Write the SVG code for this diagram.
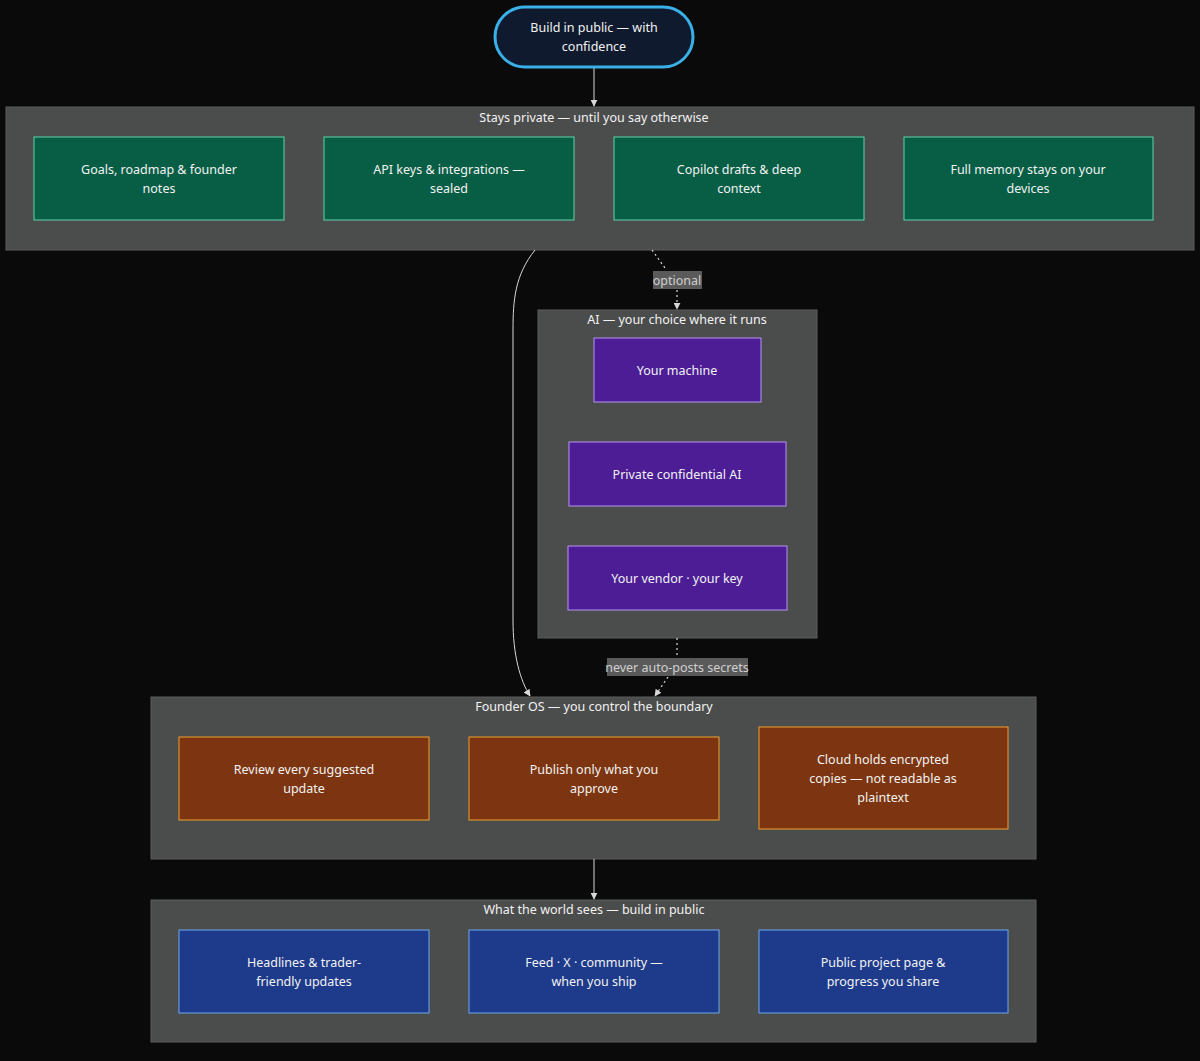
<svg xmlns="http://www.w3.org/2000/svg" width="1200" height="1061" viewBox="0 0 1200 1061">
<defs>
<marker id="arr" viewBox="0 0 10 10" refX="9" refY="5" markerWidth="7" markerHeight="7" orient="auto-start-reverse" markerUnits="userSpaceOnUse">
<path d="M0,0 L10,5 L0,10 z" fill="#d8d8d8"/>
</marker>
<style>
text{font-family:"Noto Sans","DejaVu Sans",sans-serif;font-size:12.5px;fill:#f2f2f2;text-anchor:middle;dominant-baseline:central}
.cl{fill:#4b4c4c;stroke:#5c5c5c;stroke-width:1}
.g{fill:#075e45;stroke:#5ed4a8;stroke-width:1}
.p{fill:#4c1d95;stroke:#b794f6;stroke-width:1}
.o{fill:#7c3510;stroke:#f0a030;stroke-width:1}
.b{fill:#1e3a8a;stroke:#6aa8f0;stroke-width:1}
.e{fill:none;stroke:#d8d8d8;stroke-width:1}
.d{fill:none;stroke:#d8d8d8;stroke-width:1.2;stroke-dasharray:2 3}
.lb{fill:#5a5a5a}
.lt{fill:#d0d0d0}
</style>
</defs>
<rect width="1200" height="1061" fill="#0a0a0a"/>

<g id="cluster-private">
<rect class="cl" x="6" y="107" width="1188" height="143"/>
<text x="594" y="117">Stays private — until you say otherwise</text>
</g>
<g id="cluster-ai">
<rect class="cl" x="538" y="310" width="279" height="328"/>
<text x="677" y="319">AI — your choice where it runs</text>
</g>
<g id="cluster-os">
<rect class="cl" x="151" y="697" width="885" height="162"/>
<text x="594" y="706">Founder OS — you control the boundary</text>
</g>
<g id="cluster-world">
<rect class="cl" x="151" y="900" width="885" height="142"/>
<text x="594" y="909">What the world sees — build in public</text>
</g>

<g id="connectors">
<path class="e" d="M594,67 L594,106" marker-end="url(#arr)"/>
<path class="e" d="M535,250 C515,275 513,300 513,330 L513,620 C513,655 520,680 530,696" marker-end="url(#arr)"/>
<path class="d" d="M652,250 L665,268"/>
<path class="d" d="M677,290 L677,309" marker-end="url(#arr)"/>
<path class="d" d="M677,638 L677,657"/>
<path class="d" d="M668,677 L655,696" marker-end="url(#arr)"/>
<path class="e" d="M594,859 L594,899" marker-end="url(#arr)"/>
<g id="label-optional">
<rect class="lb" x="653" y="271" width="49" height="18"/>
<text class="lt" x="677" y="280">optional</text>
</g>
<g id="label-never">
<rect class="lb" x="607" y="658" width="141" height="18"/>
<text class="lt" x="677" y="667">never auto-posts secrets</text>
</g>
</g>

<g id="start">
<rect x="495" y="7" width="198" height="60" rx="30" fill="#0f1a2e" stroke="#3ab0e8" stroke-width="3"/>
<text x="594" y="27">Build in public — with</text>
<text x="594" y="46">confidence</text>
</g>

<g id="goals"><rect class="g" x="34" y="137" width="250" height="83"/><text x="159" y="169">Goals, roadmap &amp; founder</text><text x="159" y="188">notes</text></g>
<g id="api"><rect class="g" x="324" y="137" width="250" height="83"/><text x="449" y="169">API keys &amp; integrations —</text><text x="449" y="188">sealed</text></g>
<g id="copilot"><rect class="g" x="614" y="137" width="250" height="83"/><text x="739" y="169">Copilot drafts &amp; deep</text><text x="739" y="188">context</text></g>
<g id="memory"><rect class="g" x="904" y="137" width="249" height="83"/><text x="1028" y="169">Full memory stays on your</text><text x="1028" y="188">devices</text></g>

<g id="machine"><rect class="p" x="594" y="338" width="167" height="64"/><text x="677" y="370">Your machine</text></g>
<g id="confidential"><rect class="p" x="569" y="442" width="217" height="64"/><text x="677" y="474">Private confidential AI</text></g>
<g id="vendor"><rect class="p" x="568" y="546" width="219" height="64"/><text x="677" y="578">Your vendor · your key</text></g>

<g id="review"><rect class="o" x="179" y="737" width="250" height="83"/><text x="304" y="769">Review every suggested</text><text x="304" y="788">update</text></g>
<g id="publish"><rect class="o" x="469" y="737" width="250" height="83"/><text x="594" y="769">Publish only what you</text><text x="594" y="788">approve</text></g>
<g id="cloud"><rect class="o" x="759" y="727" width="249" height="102"/><text x="883" y="759">Cloud holds encrypted</text><text x="883" y="778">copies — not readable as</text><text x="883" y="797">plaintext</text></g>

<g id="headlines"><rect class="b" x="179" y="930" width="250" height="83"/><text x="304" y="962">Headlines &amp; trader-</text><text x="304" y="981">friendly updates</text></g>
<g id="feed"><rect class="b" x="469" y="930" width="250" height="83"/><text x="594" y="962">Feed · X · community —</text><text x="594" y="981">when you ship</text></g>
<g id="page"><rect class="b" x="759" y="930" width="249" height="83"/><text x="883" y="962">Public project page &amp;</text><text x="883" y="981">progress you share</text></g>
</svg>
